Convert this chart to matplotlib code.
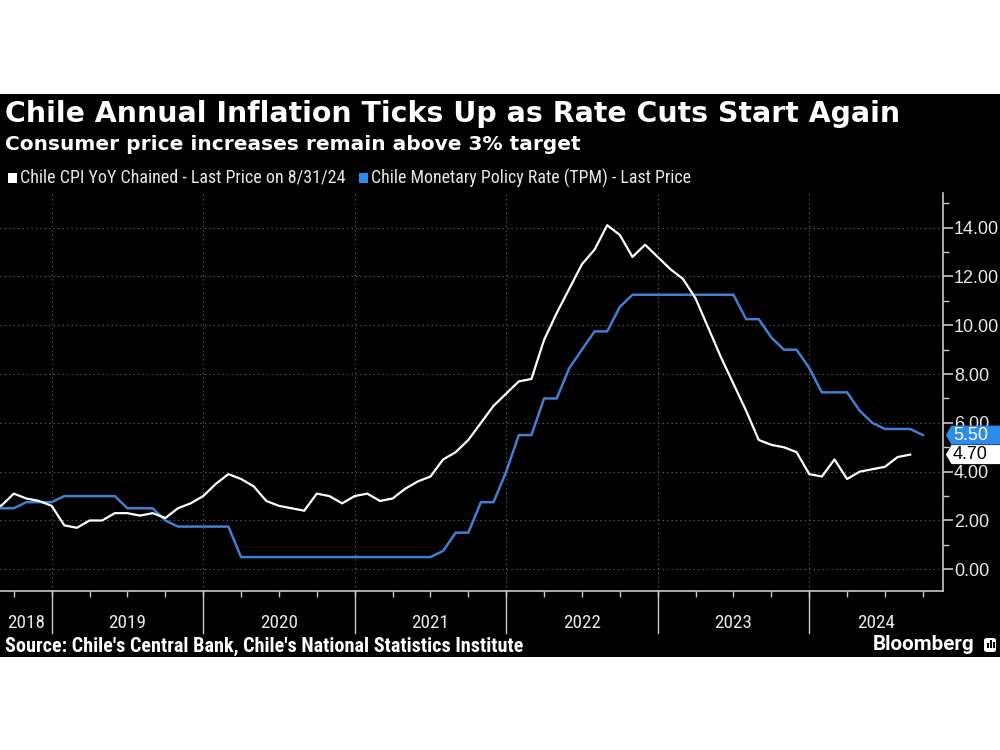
import numpy as np
import pandas as pd
import matplotlib
matplotlib.use('Agg')
import matplotlib.pyplot as plt
from matplotlib import font_manager
from matplotlib.patches import Rectangle, Polygon, FancyBboxPatch
from matplotlib.transforms import blended_transform_factory

# month-end readings, first month of each series
cpi_start = '2018-07'
cpi_yoy = [2.7, 2.6, 3.1, 2.9, 2.8, 2.6,                                    # 2018 Jul-Dec
           1.8, 1.7, 2.0, 2.0, 2.3, 2.3, 2.2, 2.3, 2.1, 2.5, 2.7, 3.0,      # 2019
           3.5, 3.9, 3.7, 3.4, 2.8, 2.6, 2.5, 2.4, 3.1, 3.0, 2.7, 3.0,      # 2020
           3.1, 2.8, 2.9, 3.3, 3.6, 3.8, 4.5, 4.8, 5.3, 6.0, 6.7, 7.2,      # 2021
           7.7, 7.8, 9.4, 10.5, 11.5, 12.5, 13.1, 14.1, 13.7, 12.8, 13.3, 12.8,  # 2022
           12.3, 11.9, 11.1, 9.9, 8.7, 7.6, 6.5, 5.3, 5.1, 5.0, 4.8, 3.9,   # 2023
           3.8, 4.5, 3.7, 4.0, 4.1, 4.2, 4.6, 4.7]                          # 2024 Jan-Aug

tpm_start = '2018-07'
tpm_rate = [2.5, 2.5, 2.5, 2.75, 2.75, 2.75,                                # 2018 Jul-Dec
            3.0, 3.0, 3.0, 3.0, 3.0, 2.5, 2.5, 2.5, 2.0, 1.75, 1.75, 1.75,  # 2019
            1.75, 1.75, 0.5, 0.5, 0.5, 0.5, 0.5, 0.5, 0.5, 0.5, 0.5, 0.5,   # 2020
            0.5, 0.5, 0.5, 0.5, 0.5, 0.5, 0.75, 1.5, 1.5, 2.75, 2.75, 4.0,  # 2021
            5.5, 5.5, 7.0, 7.0, 8.25, 9.0, 9.75, 9.75, 10.75, 11.25, 11.25, 11.25,  # 2022
            11.25, 11.25, 11.25, 11.25, 11.25, 11.25, 10.25, 10.25, 9.5, 9.0, 9.0, 8.25,  # 2023
            7.25, 7.25, 7.25, 6.5, 6.0, 5.75, 5.75, 5.75, 5.5]              # 2024 Jan-Sep

years = [2018, 2019, 2020, 2021, 2022, 2023, 2024]
y_major = [0, 2, 4, 6, 8, 10, 12, 14]

title = 'Chile Annual Inflation Ticks Up as Rate Cuts Start Again'
subtitle = 'Consumer price increases remain above 3% target'
cpi_label = 'Chile CPI YoY Chained - Last Price on 8/31/24'
tpm_label = 'Chile Monetary Policy Rate (TPM) - Last Price'
source = "Source: Chile's Central Bank, Chile's National Statistics Institute"

WHITE = '#FFFFFF'
BLUE_LINE = '#407FD2'
BLUE_TAG = '#2D8CEB'
GRID = '#6A6A6A'
AXIS = '#C8C8C8'
TXT = '#E8E8E8'


def month_axis(start, n):
    """ month-end dates as decimal years """
    idx = pd.period_range(start, periods=n, freq='M')
    return np.asarray(idx.year + idx.month / 12.0)


def pick_font(names, fallback='DejaVu Sans'):
    have = {f.name for f in font_manager.fontManager.ttflist}
    for n in names:
        if n in have:
            return n
    return fallback


NARROW = pick_font(['Liberation Sans Narrow', 'DejaVu Sans Condensed', 'Roboto Condensed'])
NUM = pick_font(['Liberation Sans', 'Roboto'])

W, H = 1000, 750
fx = lambda px: px / W
fy = lambda py: 1 - py / H

fig = plt.figure(figsize=(10, 7.5), dpi=100, facecolor='white')
renderer = fig.canvas.get_renderer()


def fit_width(t, width_px):
    w = t.get_window_extent(renderer).width
    t.set_fontsize(t.get_fontsize() * width_px / w)
    return t


# black panel (below the axes)
fig.patches.append(Rectangle((0, fy(657)), 1, (657 - 94) / H, transform=fig.transFigure,
                             facecolor='black', edgecolor='none', zorder=-5))

fit_width(fig.text(fx(5), fy(114), title, color=WHITE, fontsize=19, fontweight='bold',
                   va='center', ha='left'), 892)
fit_width(fig.text(fx(5), fy(144), subtitle, color=WHITE, fontsize=14, fontweight='bold',
                   va='center', ha='left'), 577)

# legend
fig.patches.append(Rectangle((fx(8), fy(183)), fx(9), 10 / H, transform=fig.transFigure,
                             facecolor=WHITE, edgecolor='none'))
fit_width(fig.text(fx(20), fy(178), cpi_label, color=TXT, fontsize=11, family=NARROW,
                   va='center', ha='left'), 325)
fig.patches.append(Rectangle((fx(359), fy(183)), fx(9), 10 / H, transform=fig.transFigure,
                             facecolor=BLUE_TAG, edgecolor='none'))
fit_width(fig.text(fx(371), fy(178), tpm_label, color=TXT, fontsize=11, family=NARROW,
                   va='center', ha='left'), 318)

# main axes
ax = fig.add_axes([0, fy(591), fx(943), (591 - 193) / H])
ax.set_facecolor('black')
xlim = (2018.659, 2024.883)
ax.set_xlim(*xlim)
ax.set_ylim(-0.89, 15.42)

for s in ['left', 'top']:
    ax.spines[s].set_visible(False)
for s in ['right', 'bottom']:
    ax.spines[s].set_color(AXIS)
    ax.spines[s].set_linewidth(1.2)

ax.yaxis.tick_right()
ax.set_yticks(y_major)
ax.set_yticklabels(['%.2f' % v for v in y_major], family=NUM)
ax.set_yticks(np.arange(1, 16, 2), minor=True)
ax.tick_params(axis='y', which='major', direction='out', length=7, width=1.2, color=AXIS,
               labelcolor=TXT, labelsize=13, pad=1)
ax.tick_params(axis='y', which='minor', direction='out', length=4, width=1, color=AXIS)

ax.set_xticks(np.arange(2018.75, 2024.88, 0.25))
ax.set_xticklabels([])
ax.tick_params(axis='x', which='major', direction='out', length=4, width=1, color=AXIS)

# grid
for v in y_major:
    ax.axhline(v, color=GRID, lw=0.8, ls=(0, (1, 3)), zorder=1)
for yr in years[1:]:
    ax.axvline(yr, color=GRID, lw=0.8, ls=(0, (1, 3)), zorder=1)

# year separators and labels under the axis
bt = blended_transform_factory(ax.transData, ax.transAxes)
for yr in years[1:]:
    ax.plot([yr, yr], [0, -0.106], transform=bt, color=AXIS, lw=1, clip_on=False)
for yr in years:
    lo, hi = max(yr, xlim[0]), min(yr + 1, xlim[1])
    fit_width(ax.text((lo + hi) / 2, -0.080, str(yr), transform=bt, color=TXT, fontsize=14,
                      family=NARROW, ha='center', va='center'), 38)

# series
x_cpi = month_axis(cpi_start, len(cpi_yoy))
x_tpm = month_axis(tpm_start, len(tpm_rate))
ax.plot(x_tpm, tpm_rate, color=BLUE_LINE, lw=1.8, zorder=3)
ax.plot(x_cpi, cpi_yoy, color=WHITE, lw=1.6, zorder=4)

# last value tags
rt = blended_transform_factory(ax.transAxes, ax.transData)
h = 0.39
for val, face, fg in [(tpm_rate[-1], BLUE_TAG, WHITE), (cpi_yoy[-1], WHITE, 'black')]:
    tag = Polygon([(1.003, val), (1.009, val + h), (1.1, val + h), (1.1, val - h), (1.009, val - h)],
                  closed=True, transform=rt, facecolor=face, edgecolor='none',
                  clip_on=False, zorder=5)
    ax.add_patch(tag)
    ax.text(1.0105, val, '%.2f' % val, transform=rt, color=fg, fontsize=13, family=NUM,
            ha='left', va='center', clip_on=False, zorder=6)

# footer
fit_width(fig.text(fx(5), fy(646), source, color=WHITE, fontsize=12, fontweight='bold',
                   family=NARROW, va='center', ha='left'), 520)
fit_width(fig.text(fx(873), fy(645), 'Bloomberg', color=WHITE, fontsize=14, fontweight='bold',
                   family='Roboto', va='center', ha='left'), 102)
fig.patches.append(FancyBboxPatch((fx(984), fy(652)), fx(12), 14 / H,
                                  boxstyle='round,pad=0,rounding_size=0.003',
                                  transform=fig.transFigure, facecolor=WHITE, edgecolor='none'))
for bx, bh in [(987, 5), (990, 8), (993, 6)]:
    fig.patches.append(Rectangle((fx(bx), fy(648)), fx(1.5), bh / H, transform=fig.transFigure,
                                 facecolor='black', edgecolor='none'))

fig.savefig('out.png', dpi=100, facecolor=fig.get_facecolor())
